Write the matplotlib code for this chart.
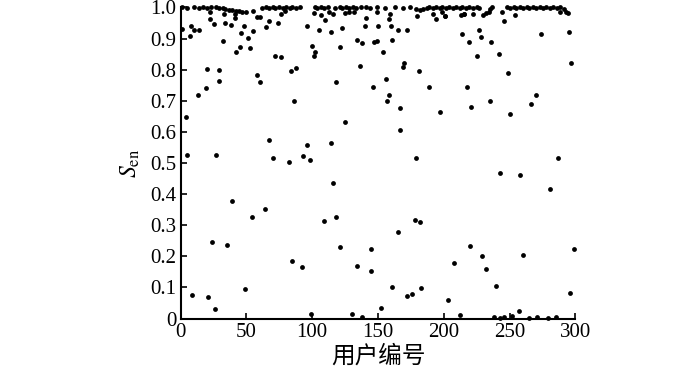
import matplotlib
matplotlib.use("Agg")
import matplotlib.pyplot as plt

# 用户编号 / S_en — верхний ряд (почти 1.0)
top_x = [1, 5, 10, 14, 17, 20, 23,
         27, 29, 32, 34, 37, 39, 42, 44, 47, 50, 55,
         62, 65, 67, 70, 72, 75, 78, 80, 83, 85, 88, 91,
         102, 104, 107, 109, 112,
         117, 121, 123, 126, 128, 131, 133, 137,
         141, 144, 149, 155, 163, 169, 174,
         179, 182, 184, 187, 189, 192, 194, 197, 199, 202, 204, 207, 209,
         212, 214, 217, 219, 222, 225, 227, 230, 232, 234, 235, 237,
         248, 250, 253, 255, 258, 260, 263, 265, 268, 270, 273, 275, 278,
         281, 283, 286, 288, 291, 293]
top_y = [1.0, 0.998, 1.0, 0.997, 1.0, 0.999, 1.0,
         1.0, 0.998, 0.997, 0.995, 0.993, 0.991, 0.99, 0.988, 0.986, 0.984, 0.99,
         0.998, 1.0, 0.999, 1.0, 0.998, 1.0, 0.999, 1.0, 0.998, 1.0, 0.999, 1.0,
         1.0, 0.997, 1.0, 0.998, 1.0,
         0.998, 1.0, 0.999, 1.0, 0.997, 1.0, 0.999, 1.0,
         1.0, 0.998, 1.0, 0.997, 1.0, 0.999, 1.0,
         0.995, 0.993, 0.996, 0.998, 1.0, 0.999, 1.0, 0.997, 1.0, 0.998, 1.0, 0.999, 1.0,
         0.998, 1.0, 0.999, 1.0, 0.998, 1.0, 0.999, 0.977, 0.982, 0.987, 0.995, 1.0,
         1.0, 0.999, 1.0, 0.998, 1.0, 0.999, 1.0, 0.998, 1.0, 0.999, 1.0, 0.998, 1.0,
         0.999, 1.0, 0.998, 1.0, 0.996, 0.985]

# второй ряд (0.97-0.99)
near_x = [22, 33, 41, 58, 60, 76, 79, 101, 107, 113, 116, 125, 128, 132, 149,
          159, 180, 192, 199, 201, 213, 215, 222, 244, 254, 288, 294]
near_y = [0.985, 0.98, 0.978, 0.97, 0.97, 0.98, 0.988, 0.982, 0.976, 0.985, 0.98,
          0.983, 0.985, 0.985, 0.985, 0.98, 0.974, 0.98, 0.985, 0.974, 0.975, 0.979,
          0.98, 0.986, 0.977, 0.985, 0.981]

# остальные точки
mid_x = [1, 7, 8, 10, 14, 22, 25, 32, 34, 38, 41, 42, 45, 46, 48, 51, 53, 55,
         65, 67, 72, 76, 74, 20, 19, 13, 29, 29, 58, 60, 84, 88, 86, 96, 100,
         101, 102, 105,
         110, 114, 123, 141, 140, 150, 158, 160, 165, 172, 194, 201, 134, 138,
         147, 149, 161, 121, 154, 136, 170, 169, 181, 118, 156, 146, 189, 158,
         157, 167,
         215, 246, 214, 227, 228, 219, 236, 274, 295, 225, 242, 297, 249, 218,
         221, 235, 270, 266,
         4, 5, 27, 67, 70, 82, 96, 93, 98, 39, 64,
         197, 125, 167, 114, 179, 116,
         250, 287, 243, 258, 281,
         54, 24, 35, 85, 92, 9, 21, 49, 26, 99,
         109, 118, 121, 145, 134, 145, 165, 178, 182, 161, 172, 176, 183, 130,
         138, 152, 203, 208, 212,
         220, 229, 232, 240, 260, 299, 296, 257,
         238, 243, 246, 252, 265, 271, 279, 285]
mid_y = [0.93, 0.907, 0.94, 0.927, 0.927, 0.964, 0.947, 0.891, 0.95, 0.945, 0.967,
         0.857, 0.872, 0.918, 0.942, 0.902, 0.87, 0.923,
         0.938, 0.956, 0.845, 0.841, 0.95, 0.802, 0.741, 0.72, 0.8, 0.762, 0.783,
         0.759, 0.795, 0.805, 0.7, 0.942, 0.877, 0.843, 0.856, 0.927,
         0.96, 0.92, 0.935, 0.967, 0.939, 0.939, 0.963, 0.939, 0.926, 0.927, 0.963,
         0.974, 0.895, 0.886, 0.888, 0.893, 0.895, 0.873, 0.856, 0.811, 0.822,
         0.809, 0.795, 0.761, 0.77, 0.743, 0.743, 0.717, 0.7, 0.678,
         0.979, 0.955, 0.915, 0.929, 0.905, 0.888, 0.89, 0.915, 0.92, 0.844, 0.851,
         0.821, 0.788, 0.743, 0.68, 0.7, 0.717, 0.69,
         0.649, 0.525, 0.525, 0.575, 0.517, 0.504, 0.558, 0.523, 0.51, 0.378, 0.351,
         0.663, 0.631, 0.607, 0.563, 0.516, 0.437,
         0.658, 0.516, 0.469, 0.463, 0.418,
         0.328, 0.247, 0.237, 0.186, 0.166, 0.076, 0.068, 0.095, 0.03, 0.013,
         0.313, 0.328, 0.23, 0.224, 0.168, 0.154, 0.277, 0.316, 0.31, 0.103, 0.073,
         0.078, 0.097, 0.015, 0.006, 0.035, 0.061, 0.177, 0.01,
         0.234, 0.201, 0.159, 0.104, 0.204, 0.222, 0.083, 0.025,
         0.004, 0.003, 0.005, 0.008, 0.003, 0.004, 0.003, 0.004]

users = top_x + near_x + mid_x
sen = top_y + near_y + mid_y

plt.rcParams['font.family'] = ['Liberation Serif', 'DejaVu Serif']
plt.rcParams['mathtext.fontset'] = 'stix'

fig = plt.figure(figsize=(7, 3.73), dpi=100)
ax = fig.add_axes([0.258, 0.146, 0.564, 0.834])
ax.scatter(users, sen, s=12, c='black', marker='o', linewidths=0, clip_on=False, zorder=3)

ax.set_xlim(0, 300)
ax.set_ylim(0, 1.0)
ax.set_xticks([0, 50, 100, 150, 200, 250, 300])
ax.set_yticks([0, 0.1, 0.2, 0.3, 0.4, 0.5, 0.6, 0.7, 0.8, 0.9, 1.0])
ax.set_yticklabels(['0', '0.1', '0.2', '0.3', '0.4', '0.5', '0.6', '0.7', '0.8', '0.9', '1.0'])
ax.tick_params(direction='in', length=4, width=1.2, labelsize=15, pad=3)
ax.spines['top'].set_visible(False)
ax.spines['right'].set_visible(False)
ax.spines['left'].set_linewidth(1.5)
ax.spines['bottom'].set_linewidth(1.5)

ax.set_ylabel(r'$S_{\mathrm{en}}$', fontsize=17, labelpad=6)
ax.set_xlabel('用户编号', fontsize=17, family=['Noto Sans CJK SC', 'DejaVu Sans'], labelpad=2)

fig.savefig('out.png', dpi=100)
